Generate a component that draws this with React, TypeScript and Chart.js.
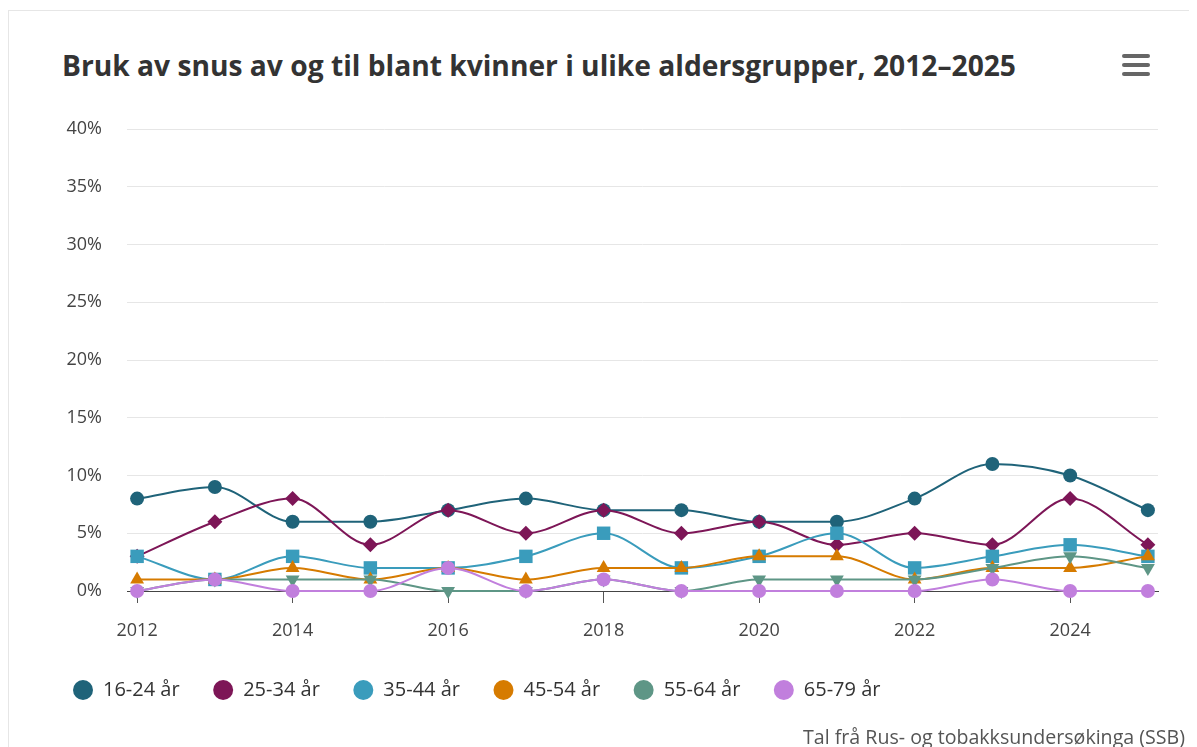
import React, { useEffect, useRef } from "react";
import { Chart, registerables } from "chart.js";

Chart.register(...registerables);

const TITLE = "Bruk av snus av og til blant kvinner i ulike aldersgrupper, 2012–2025";
const CREDITS = "Tal frå Rus- og tobakksundersøkinga (SSB)";

const years = [2012, 2013, 2014, 2015, 2016, 2017, 2018, 2019, 2020, 2021, 2022, 2023, 2024, 2025];
const xTickYears = [2012, 2014, 2016, 2018, 2020, 2022, 2024];
const yTicks = [0, 5, 10, 15, 20, 25, 30, 35, 40];

const seriesNames = ["16-24 år", "25-34 år", "35-44 år", "45-54 år", "55-64 år", "65-79 år"];
const age16_24 = [8, 9, 6, 6, 7, 8, 7, 7, 6, 6, 8, 11, 10, 7];
const age25_34 = [3, 6, 8, 4, 7, 5, 7, 5, 6, 4, 5, 4, 8, 4];
const age35_44 = [3, 1, 3, 2, 2, 3, 5, 2, 3, 5, 2, 3, 4, 3];
const age45_54 = [1, 1, 2, 1, 2, 1, 2, 2, 3, 3, 1, 2, 2, 3];
const age55_64 = [0, 1, 1, 1, 0, 0, 1, 0, 1, 1, 1, 2, 3, 2];
const age65_79 = [0, 1, 0, 0, 2, 0, 1, 0, 0, 0, 0, 1, 0, 0];

const seriesValues = [age16_24, age25_34, age35_44, age45_54, age55_64, age65_79];
const seriesColors = ["#1f6379", "#7d1657", "#3a9cbc", "#d67b00", "#5e9686", "#c17fdd"];
const seriesMarkers = ["circle", "rectRot", "rect", "triangle", "triangle", "circle"];
const markerRotation = [0, 0, 0, 0, 180, 0];
const markerRadius = [7, 7.5, 9.5, 8, 8, 7];

const FONT = "'Open Sans', 'Noto Sans', sans-serif";
const CANVAS_W = 1199;
const CANVAS_H = 660;

export default function App() {
  const canvasRef = useRef<HTMLCanvasElement | null>(null);

  useEffect(() => {
    if (!canvasRef.current) return;
    const datasets = seriesNames.map((name, i) => ({
      label: name,
      data: years.map((y, j) => ({ x: y, y: seriesValues[i][j] })),
      borderColor: seriesColors[i],
      backgroundColor: seriesColors[i],
      pointBackgroundColor: seriesColors[i],
      pointBorderColor: seriesColors[i],
      pointBorderWidth: 0,
      pointStyle: seriesMarkers[i],
      pointRotation: markerRotation[i],
      pointRadius: markerRadius[i],
      borderWidth: 2,
      cubicInterpolationMode: "monotone" as const,
      clip: false as any,
      order: seriesNames.length - i,
    }));

    const chart = new Chart(canvasRef.current, {
      type: "line",
      data: { datasets },
      options: {
        animation: false,
        responsive: false,
        maintainAspectRatio: false,
        devicePixelRatio: 1,
        layout: { padding: { left: 30.5, right: 50, top: 28, bottom: 51 } },
        plugins: {
          title: { display: false },
          tooltip: { enabled: false },
          legend: {
            display: true,
            position: "bottom",
            align: "start",
            labels: {
              usePointStyle: true,
              pointStyle: "circle",
              pointStyleWidth: 20,
              boxHeight: 14.14,
              padding: 33.5,
              color: "#333333",
              font: { family: FONT, size: 20 },
              generateLabels: (ch: any) =>
                ch.data.datasets.map((d: any, i: number) => ({
                  text: d.label,
                  fillStyle: seriesColors[i],
                  strokeStyle: seriesColors[i],
                  lineWidth: 0,
                  pointStyle: "circle",
                  rotation: 0,
                  fontColor: "#333333",
                  hidden: false,
                  datasetIndex: i,
                })),
            },
          },
        },
        scales: {
          x: {
            type: "linear",
            min: 2011.87,
            max: 2025.13,
            afterBuildTicks: (axis: any) => {
              axis.ticks = xTickYears.map((v) => ({ value: v }));
            },
            afterFit: (axis: any) => {
              axis.height = 55.5;
              axis.paddingLeft = 0;
              axis.paddingRight = 0;
            },
            grid: {
              display: true,
              drawOnChartArea: false,
              drawTicks: true,
              tickLength: 12,
              tickColor: "#555555",
              lineWidth: 1,
            },
            border: { display: true, color: "#444444", width: 1 },
            ticks: {
              padding: 17,
              color: "#444444",
              font: { family: FONT, size: 18 },
              maxRotation: 0,
              autoSkip: false,
              callback: (v: any) => String(v),
            },
          },
          y: {
            min: 0,
            max: 40,
            afterBuildTicks: (axis: any) => {
              axis.ticks = yTicks.map((v) => ({ value: v }));
            },
            afterFit: (axis: any) => {
              axis.width = 87.5;
              axis.paddingTop = 0;
              axis.paddingBottom = 0;
            },
            grid: { color: "#e6e6e6", lineWidth: 1, drawTicks: false },
            border: { display: false },
            ticks: {
              padding: 25,
              color: "#444444",
              font: { family: FONT, size: 18 },
              callback: (v: any) => v + "%",
            },
          },
        },
      },
    });
    return () => chart.destroy();
  }, []);

  return (
    <div
      style={{
        position: "relative",
        top: 2,
        width: 1200,
        height: 760,
        borderTop: "1px solid #e6e6e6",
        borderLeft: "1px solid #e6e6e6",
        boxSizing: "border-box",
        fontFamily: FONT,
        overflow: "hidden",
      }}
    >
      <div
        style={{
          position: "absolute",
          left: 53,
          top: 37,
          fontSize: 28.2,
          lineHeight: "34px",
          fontWeight: 700,
          color: "#333333",
          whiteSpace: "nowrap",
        }}
      >
        {TITLE}
      </div>
      {[43, 52, 61].map((t) => (
        <div
          key={t}
          style={{
            position: "absolute",
            left: 1113,
            top: t,
            width: 28,
            height: 4,
            borderRadius: 2,
            background: "#666666",
          }}
        />
      ))}
      <div style={{ position: "absolute", left: 0, top: 90, width: CANVAS_W, height: CANVAS_H }}>
        <canvas
          ref={canvasRef}
          width={CANVAS_W}
          height={CANVAS_H}
          style={{ display: "block", width: CANVAS_W, height: CANVAS_H }}
        />
      </div>
      <div
        style={{
          position: "absolute",
          left: 794,
          top: 713,
          fontSize: 19.6,
          lineHeight: "26px",
          color: "#555555",
          whiteSpace: "nowrap",
        }}
      >
        {CREDITS}
      </div>
    </div>
  );
}
